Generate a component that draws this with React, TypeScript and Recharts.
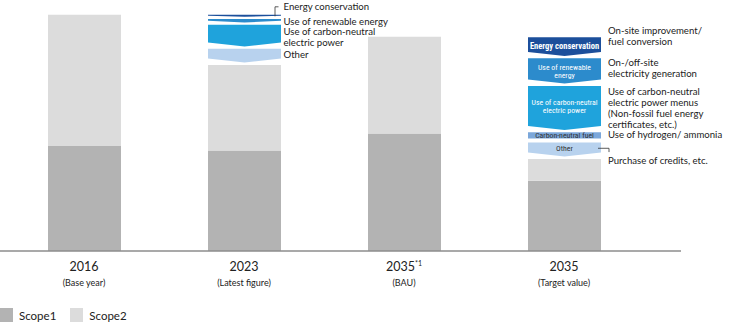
import React from 'react';
import { BarChart, Bar, XAxis, YAxis, Legend } from 'recharts';

// categories and tick labels
const categories = ['2016', '2023', '2035', '2035'];
const categoryMarks = ['', '', '*1', ''];
const categoryNotes = ['(Base year)', '(Latest figure)', '(BAU)', '(Target value)'];

// emissions (2016 total = 100)
const scope1 = [44.5, 42.5, 49.7, 29.7];
const scope2 = [55.5, 36.3, 41.0, 9.3];

// reductions, stacked bottom to top
const other = [0, 6.8, 0, 6.9];
const cnFuel = [0, 0, 0, 4.4];
const cnPower = [0, 10.2, 0, 19.6];
const renewable = [0, 2.4, 0, 11.7];
const energyConservation = [0, 1.8, 0, 8.9];

const reductionKeys = ['other', 'cnFuel', 'cnPower', 'renewable', 'energyConservation'];
const reductionColors = ['#b8d2ee', '#7ba7da', '#1fa3dc', '#2c8bcc', '#1c4f9b'];
const innerTextColors = ['#333', '#333', '#fff', '#fff', '#fff'];

const innerLabels = [
  ['Other'],
  ['Carbon-neutral fuel'],
  ['Use of carbon-neutral', 'electric power'],
  ['Use of renewable', 'energy'],
  ['Energy conservation'],
];
const latestNotes = [
  ['Other'],
  [],
  ['Use of carbon-neutral', 'electric power'],
  ['Use of renewable energy'],
  ['Energy conservation'],
];
const targetNotes = [
  ['Purchase of credits, etc.'],
  ['Use of hydrogen/ ammonia'],
  ['Use of carbon-neutral', 'electric power menus', '(Non-fossil fuel energy', 'certificates, etc.)'],
  ['On-/off-site', 'electricity generation'],
  ['On-site improvement/', 'fuel conversion'],
];

// note placement relative to each block's top (layout only)
const latestNoteDy = [9.5, 0, 10, 6, -5];
const targetNoteDy = [21, 6.3, 9, 8, -3];

const FONT = 'Lato, Roboto, sans-serif';
const NARROW = '"Liberation Sans Narrow", "Roboto Condensed", Roboto, sans-serif';

const data = categories.map((c, i) => ({
  name: c + categoryMarks[i],
  scope1: scope1[i],
  scope2: scope2[i],
  other: other[i],
  cnFuel: cnFuel[i],
  cnPower: cnPower[i],
  renewable: renewable[i],
  energyConservation: energyConservation[i],
}));

const ReductionShape = (props: any) => {
  const { x, y, width, height, index, series } = props;
  if (!height || height <= 0) return null;
  const isTarget = index === 3;
  const flat = reductionKeys[series] === 'cnFuel';
  const gap = flat ? 4 : 2.3;
  const dh = Math.max(height - gap, 1);
  const depth = Math.min(4, dh * 0.5);
  const cx = x + width / 2;
  const right = x + width;
  const points = flat
    ? `${x},${y} ${right},${y} ${right},${y + dh} ${x},${y + dh}`
    : `${x},${y} ${right},${y} ${right},${y + dh - depth} ${cx},${y + dh} ${x},${y + dh - depth}`;

  const notes = isTarget ? targetNotes[series] : latestNotes[series];
  const noteX = isTarget ? right + 7 : right + 2.5;
  const noteY = y + (isTarget ? targetNoteDy[series] : latestNoteDy[series]);
  const lineH = 11;

  const inner = isTarget ? innerLabels[series] : [];
  const innerMid = y + (flat ? dh / 2 : (dh - depth / 2) / 2) + (series === 3 ? 2 : 0);
  const innerH = 8;

  return (
    <g>
      <polygon points={points} fill={reductionColors[series]} />
      {inner.map((t, k) => (
        <text
          key={k}
          x={cx}
          y={innerMid + (k - (inner.length - 1) / 2) * innerH}
          textAnchor="middle"
          dominantBaseline="central"
          fontFamily={NARROW}
          fontSize={series === 4 ? 8.5 : 7.8}
          fontWeight={series === 4 ? 700 : 400}
          fill={innerTextColors[series]}
        >
          {t}
        </text>
      ))}
      {notes.map((t, k) => (
        <text key={'n' + k} x={noteX} y={noteY + k * lineH} fontFamily={FONT} fontSize={9.6} fill="#222">
          {t}
        </text>
      ))}
      {!isTarget && series === 4 && (
        <polyline
          points={`${right - 6},${y + 1.5} ${right - 6},${y - 8} ${right - 2.5},${y - 8}`}
          fill="none"
          stroke="#333"
          strokeWidth={0.8}
        />
      )}
      {isTarget && series === 0 && (
        <polyline
          points={`${right - 3},${y + 5.7} ${right + 8},${y + 5.7} ${right + 8},${y + 9.5}`}
          fill="none"
          stroke="#333"
          strokeWidth={0.8}
        />
      )}
    </g>
  );
};

const CategoryTick = (props: any) => {
  const { x, y, index } = props;
  return (
    <g>
      <text x={x} y={y + 18} textAnchor="middle" fontFamily={FONT} fontSize={12.5} fill="#222">
        {categories[index]}
        {categoryMarks[index] && (
          <tspan fontSize={7} dy={-5}>
            {categoryMarks[index]}
          </tspan>
        )}
      </text>
      <text x={x} y={y + 33} textAnchor="middle" fontFamily={FONT} fontSize={9} fill="#222">
        {categoryNotes[index]}
      </text>
    </g>
  );
};

const legendItems = [
  { label: 'Scope1', color: '#b3b3b3' },
  { label: 'Scope2', color: '#dcdcdc' },
];

const LegendContent = () => (
  <div style={{ display: 'flex', alignItems: 'center', fontFamily: FONT, fontSize: 11.5, color: '#222', height: 16 }}>
    {legendItems.map((it) => (
      <div key={it.label} style={{ display: 'flex', alignItems: 'center', marginRight: 14 }}>
        <span style={{ display: 'inline-block', width: 13, height: 14, background: it.color, marginRight: 6 }} />
        {it.label}
      </div>
    ))}
  </div>
);

export default function App() {
  return (
    <div style={{ position: 'absolute', left: 0, top: 0, background: '#fff' }}>
      <BarChart width={730} height={327} data={data} margin={{ top: 3, right: 49, left: 0, bottom: 4 }} barSize={73}>
        <XAxis
          dataKey="name"
          axisLine={{ stroke: '#8c8c8c', strokeWidth: 1.5 }}
          tickLine={false}
          tickSize={0}
          height={56}
          padding={{ left: 4, right: 37 }}
          tick={<CategoryTick />}
          interval={0}
        />
        <YAxis hide domain={[0, 105]} />
        <Legend
          verticalAlign="bottom"
          align="left"
          content={<LegendContent />}
          wrapperStyle={{ left: 0, height: 16 }}
        />
        <Bar dataKey="scope1" stackId="a" fill="#b3b3b3" isAnimationActive={false} />
        <Bar dataKey="scope2" stackId="a" fill="#dcdcdc" isAnimationActive={false} />
        {reductionKeys.map((k, i) => (
          <Bar
            key={k}
            dataKey={k}
            stackId="a"
            fill={reductionColors[i]}
            legendType="none"
            isAnimationActive={false}
            shape={(p: any) => <ReductionShape {...p} series={i} />}
          />
        ))}
      </BarChart>
    </div>
  );
}
